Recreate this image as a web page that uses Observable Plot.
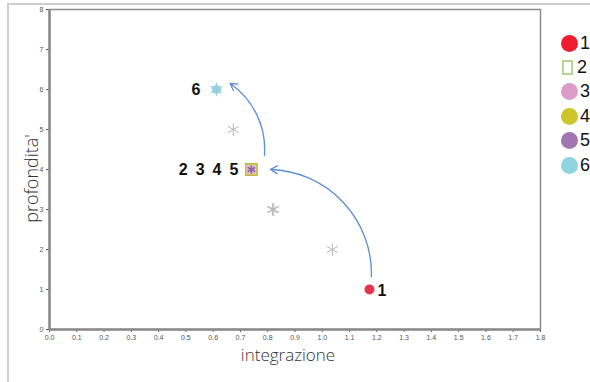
<!DOCTYPE html>
<html>
<head>
<meta charset="utf-8">
<script src="https://cdn.jsdelivr.net/npm/d3@7"></script>
<script src="https://cdn.jsdelivr.net/npm/@observablehq/plot@0.6"></script>
<style>
  html, body { margin: 0; padding: 0; background: #fff; }
  #wrap { position: relative; width: 590px; height: 382px; overflow: hidden; }
  #outer { position: absolute; left: 7px; top: 3px; width: 600px; height: 400px;
           border-top: 2px solid #cfcfcf; border-left: 2px solid #cfcfcf; }
  #legend { position: absolute; left: 561px; top: 31px; font-family: Arial, "Liberation Sans", sans-serif;
            font-size: 18px; color: #111; }
  .item { display: flex; align-items: center; height: 24.4px; }
  .sw { width: 17px; height: 17px; border-radius: 50%; margin-right: 2px; }
  .sq { width: 11px; height: 15px; border: 2px solid #b9d494; margin: 0 4px 0 1px; box-sizing: border-box; }
  #chart { position: absolute; left: 0; top: 0; }
</style>
</head>
<body>
<div id="wrap">
  <div id="outer"></div>
  <div id="chart"></div>
  <div id="legend"></div>
</div>
<script>
// Series (legend) names and colours
const seriesNames = ["1", "2", "3", "4", "5", "6"];
const seriesColors = ["#ed1c2e", "#b9d494", "#dc9cc8", "#cbc62a", "#a174b2", "#8dd3e0"];

// Data points for each series
const seriesX = [1.173, 0.740, 0.740, 0.740, 0.740, 0.612];
const seriesY = [1, 4, 4, 4, 4, 6];

// Grey asterisk markers
const starX = [1.037, 0.817, 0.822, 0.674, 0.740, 0.612];
const starY = [2, 3, 3, 5, 4, 6];

// Bold number annotations
const labelText = ["1", "2 3 4 5", "6"];
const labelX = [1.173, 0.740, 0.612];
const labelY = [1, 4, 6];

// Blue curved arrows
const arrowX1 = [1.180, 0.788];
const arrowY1 = [1.32, 4.35];
const arrowX2 = [0.810, 0.662];
const arrowY2 = [4.0, 6.15];
const arrowBend = [-45, -30];

// Axis ticks
const xTicks = [0, 0.1, 0.2, 0.3, 0.4, 0.5, 0.6, 0.7, 0.8, 0.9, 1, 1.1, 1.2, 1.3, 1.4, 1.5, 1.6, 1.7, 1.8];
const yTicks = [0, 1, 2, 3, 4, 5, 6, 7, 8];

const xLabel = "integrazione";
const yLabel = "profondita'";

const pts = seriesNames.map((s, i) => ({s, x: seriesX[i], y: seriesY[i], c: seriesColors[i]}));
const stars = starX.map((x, i) => ({x, y: starY[i]}));
const labels = labelText.map((t, i) => ({t, x: labelX[i], y: labelY[i]}));
const arrows = arrowX1.map((x, i) => ({x1: x, y1: arrowY1[i], x2: arrowX2[i], y2: arrowY2[i], b: arrowBend[i]}));

const byName = n => pts.filter(d => d.s === n);
const lab = n => labels.filter(d => d.t === n);
const spaced = d => d.t.replaceAll(" ", "\u2002");
const boldFont = {fontSize: 16, fontWeight: "bold", fill: "#111", fontFamily: "Arial, 'Liberation Sans', sans-serif"};

const chart = Plot.plot({
  width: 590,
  height: 382,
  marginLeft: 49,
  marginRight: 50,
  marginTop: 9,
  marginBottom: 53,
  style: {fontSize: "7px", fontFamily: "Arial, 'Liberation Sans', sans-serif", color: "#555", background: "transparent"},
  x: {domain: [0, 1.8], ticks: xTicks, tickSize: 3, tickPadding: 3, label: null},
  y: {domain: [0, 8], ticks: yTicks, tickSize: 3, tickPadding: 3, label: null},
  marks: [
    Plot.frame({stroke: "#8a8a8a", strokeWidth: 1.5}),
    Plot.ruleX([0], {stroke: "#8a8a8a", strokeWidth: 2.5}),
    Plot.ruleY([0], {stroke: "#8a8a8a", strokeWidth: 2.5}),
    Plot.dot(stars, {x: "x", y: "y", symbol: "asterisk", r: 6, stroke: "#b5b5b5", strokeWidth: 1}),
    // series 1
    Plot.dot(byName("1"), {x: "x", y: "y", r: 5, fill: "#e8334f"}),
    // cluster 2-5
    Plot.dot(byName("4"), {x: "x", y: "y", symbol: "square", r: 6.5, fill: "#dcc8c0", stroke: "#cbc62a", strokeWidth: 1.3}),
    Plot.dot(byName("3"), {x: "x", y: "y", r: 3.8, fill: "#dc9cc8", fillOpacity: 0.9}),
    Plot.dot(byName("5"), {x: "x", y: "y", symbol: "asterisk", r: 4, stroke: "#8f5fb0", strokeWidth: 1.2}),
    Plot.dot(byName("2"), {x: "x", y: "y", symbol: "square", r: 6.5, stroke: "#b9b24a", strokeWidth: 0.8, fill: "none"}),
    // series 6
    Plot.dot(byName("6"), {x: "x", y: "y", r: 4.6, fill: "#8dd3e0", fillOpacity: 0.95}),
    Plot.dot(byName("6"), {x: "x", y: "y", symbol: "asterisk", r: 6.5, stroke: "#9ccbd4", strokeWidth: 0.8}),
    Plot.arrow(arrows.slice(0, 1), {x1: "x1", y1: "y1", x2: "x2", y2: "y2", bend: arrowBend[0], stroke: "#5b8fd4", strokeWidth: 1.3, headLength: 9, insetStart: 0, insetEnd: 0}),
    Plot.arrow(arrows.slice(1, 2), {x1: "x1", y1: "y1", x2: "x2", y2: "y2", bend: arrowBend[1], stroke: "#5b8fd4", strokeWidth: 1.3, headLength: 9, insetStart: 0, insetEnd: 0}),
    Plot.text(lab("1"), {x: "x", y: "y", text: spaced, textAnchor: "start", dx: 8, dy: 1, ...boldFont}),
    Plot.text(lab("2 3 4 5"), {x: "x", y: "y", text: spaced, textAnchor: "end", dx: -13, dy: 0, ...boldFont}),
    Plot.text(lab("6"), {x: "x", y: "y", text: spaced, textAnchor: "end", dx: -16, dy: 0, ...boldFont}),
    Plot.text([xLabel], {frameAnchor: "bottom", textAnchor: "middle", text: d => d, dy: 31, dx: -7, fontSize: 17, fill: "#333", fontFamily: "'Open Sans', Lato, sans-serif", fontWeight: 300}),
    Plot.text([yLabel], {frameAnchor: "left", textAnchor: "middle", text: d => d, dx: -17, dy: 9, rotate: -90, fontSize: 18, letterSpacing: 2, fill: "#333", fontFamily: "'Open Sans', Lato, sans-serif", fontWeight: 300})
  ]
});
document.getElementById("chart").appendChild(chart);

const legend = document.getElementById("legend");
seriesNames.forEach((n, i) => {
  const item = document.createElement("div");
  item.className = "item";
  const sw = document.createElement("span");
  if (i === 1) {
    sw.className = "sq";
    sw.style.borderColor = seriesColors[i];
  } else {
    sw.className = "sw";
    sw.style.background = seriesColors[i];
  }
  const t = document.createElement("span");
  t.textContent = n;
  item.appendChild(sw);
  item.appendChild(t);
  legend.appendChild(item);
});
</script>
</body>
</html>
